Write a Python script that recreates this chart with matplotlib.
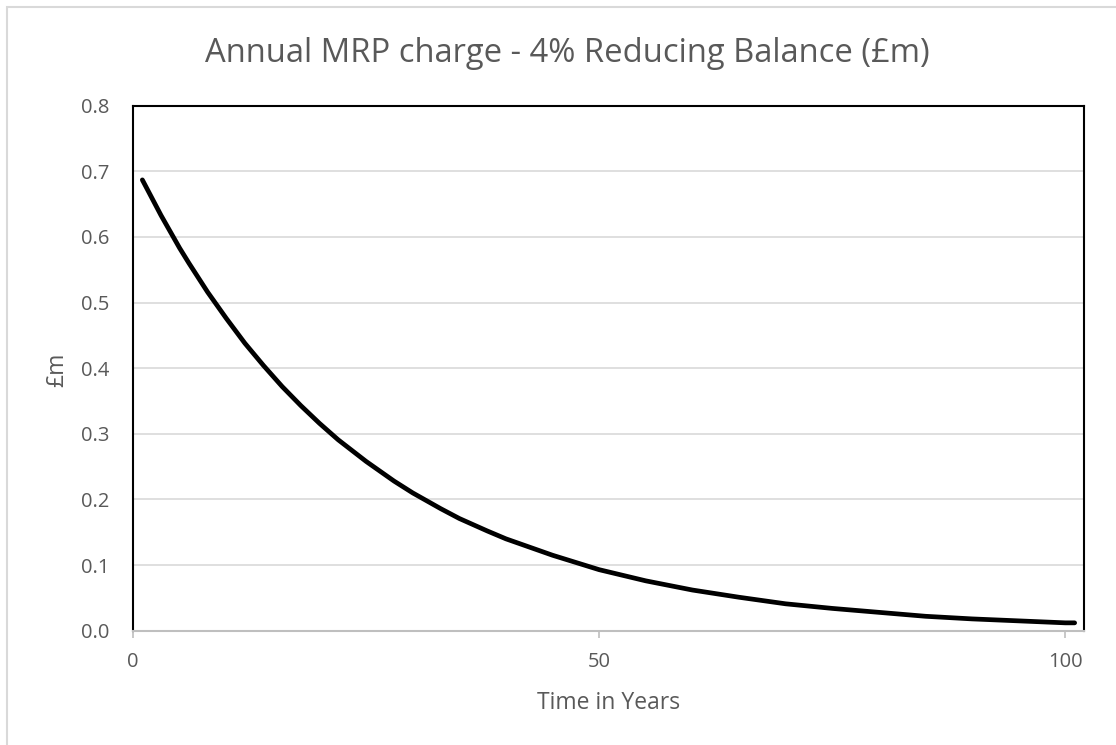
import matplotlib.pyplot as plt
from matplotlib.patches import Rectangle

# values (year, MRP charge in £m)
years = [1, 2, 3, 4, 5, 6, 7, 8, 9, 10, 12, 14, 16, 18, 20, 22, 25, 28, 30,
         33, 35, 38, 40, 45, 50, 55, 60, 65, 70, 75, 80, 85, 90, 95, 100, 101]
charge = [0.687, 0.660, 0.633, 0.608, 0.583, 0.560, 0.538, 0.516, 0.496,
          0.476, 0.438, 0.404, 0.372, 0.343, 0.316, 0.291, 0.258, 0.228,
          0.210, 0.186, 0.171, 0.152, 0.140, 0.115, 0.093, 0.076, 0.062,
          0.051, 0.041, 0.034, 0.028, 0.022, 0.018, 0.015, 0.012, 0.012]

x_ticks = [0, 50, 100]
y_ticks = [0.0, 0.1, 0.2, 0.3, 0.4, 0.5, 0.6, 0.7, 0.8]

text_grey = '#595959'
plt.rcParams['font.family'] = ['Open Sans', 'DejaVu Sans']

fig = plt.figure(figsize=(11.16, 7.45), dpi=100)
ax = fig.add_axes([0.1192, 0.1534, 0.8521, 0.7047])

ax.plot(years, charge, color='black', linewidth=3.4, solid_capstyle='round',
        solid_joinstyle='round', zorder=3)

ax.set_xlim(0, 102)
ax.set_ylim(0, 0.8)
ax.set_xticks(x_ticks)
ax.set_yticks(y_ticks)
ax.set_yticklabels([f"{v:.1f}" for v in y_ticks])
ax.grid(axis='y', color='#d9d9d9', linewidth=1.2)
ax.set_axisbelow(True)

for side in ['left', 'top', 'right']:
    ax.spines[side].set_color('black')
    ax.spines[side].set_linewidth(1.5)
ax.spines['bottom'].set_color('#bfbfbf')
ax.spines['bottom'].set_linewidth(1.5)
ax.spines['bottom'].set_zorder(4)

ax.tick_params(axis='x', length=5, width=1.2, color='#bfbfbf', pad=10,
               labelsize=14.5, labelcolor=text_grey)
ax.tick_params(axis='y', length=0, pad=17, labelsize=14.5, labelcolor=text_grey)

fig.text(0.508, 0.9172, "Annual MRP charge - 4% Reducing Balance (£m)",
         ha='center', va='baseline', fontsize=23.6, color=text_grey)
fig.text(0.5453, 0.0479, "Time in Years", ha='center', va='baseline',
         fontsize=16.5, color=text_grey)
fig.text(0.051, 0.503, "£m", ha='center', va='center', rotation=90,
         fontsize=16.5, color=text_grey)

# chart area border (cut by the image edge on the right and bottom)
fig.patches.append(Rectangle((7 / 1116, -0.1), 1.2, 1.1 - 7 / 745,
                             transform=fig.transFigure, fill=False,
                             edgecolor='#d9d9d9', linewidth=1.5))

fig.savefig('out.png', dpi=100)
